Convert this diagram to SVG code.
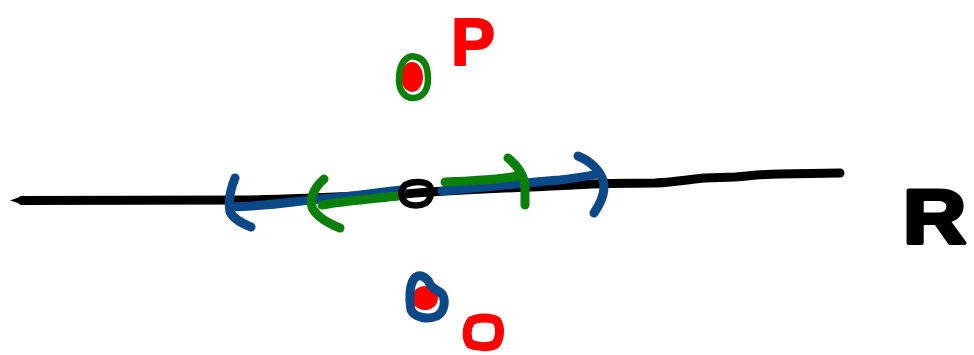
<svg xmlns="http://www.w3.org/2000/svg" width="974" height="355" viewBox="0 0 974 355">
  <style>
    .ink { fill: none; stroke-linecap: round; stroke-linejoin: round; }
    .black { stroke: #000000; }
    .blue { stroke: #0b4888; }
    .green { stroke: #0a800a; }
    .red { stroke: #ff0000; }
    .dot { fill: #ff0000; stroke: none; }
    .letter { font-family: "Liberation Sans", Arial, sans-serif; font-weight: bold; stroke-linejoin: round; }
  </style>
  <rect width="974" height="355" fill="#ffffff"/>

  <!-- the real line -->
  <g id="axis">
    <path class="ink black" stroke-width="9" d="M22,200.5 L250,200 C300,199 360,196 405,194 C440,191 480,189 530,187 C560,186 585,184 610,183.5 L655,183 C678,182 690,179 705,178 L735,177 C750,176 760,174 780,174 L840,173"/>
    <polygon fill="#000000" points="10,200.5 24,195.5 24,205"/>
  </g>

  <!-- intervals around the centre point -->
  <g id="connectors">
    <g id="blue-interval">
      <path class="ink blue" stroke-width="9" d="M230,207 C270,206 290,202 320,199 C350,197 380,192 402,190"/>
      <path class="ink blue" stroke-width="9" d="M442,191 C480,188 520,183 560,180 C575,178 590,176 598,174"/>
      <path class="ink blue" stroke-width="9" d="M235,178 C230,190 228,200 230,212 C234,220 244,224 251,227"/>
      <path class="ink blue" stroke-width="9" d="M578,156 C595,163 604,176 604,187 C604,198 598,207 594,213"/>
    </g>
    <g id="green-interval">
      <path class="ink green" stroke-width="9" d="M322,205 C345,201 370,199 398,196"/>
      <path class="ink green" stroke-width="9" d="M445,182 C470,181 495,180 518,176"/>
      <path class="ink green" stroke-width="9" d="M324,179 C314,188 310,198 312,207 C316,217 330,224 340,228"/>
      <path class="ink green" stroke-width="9" d="M508,158 C518,166 524,176 525,186 L525,205"/>
    </g>
  </g>

  <!-- centre point -->
  <g id="centre">
    <path class="ink black" stroke-width="6.5" d="M405,185 C412,181 424,181 429,185 C433,190 431,199 426,203 C419,207 408,206 404,201 C400,196 401,189 405,185 Z"/>
  </g>

  <!-- point above the line -->
  <g id="point-p">
    <ellipse class="dot" cx="412" cy="77" rx="11" ry="15"/>
    <path class="ink green" stroke-width="6.5" d="M409,57 C401,61 399,72 399,80 C399,91 405,98 413,98 C422,98 428,91 428,79 C428,68 425,59 416,57 C413,56 411,56 409,57"/>
    <text class="letter" x="451" y="65" font-size="66" fill="#ff0000" stroke="#ff0000" stroke-width="2">P</text>
  </g>

  <!-- points below the line -->
  <g id="point-q">
    <ellipse class="dot" cx="425" cy="298" rx="13" ry="12"/>
    <path class="ink blue" stroke-width="9" d="M416,277 C409,282 409,300 411,310 C415,318 428,320 437,316 C445,311 446,300 442,294 C438,290 432,289 430,284 C427,277 420,274 416,277"/>
  </g>
  <g id="point-r">
    <path class="ink red" stroke-width="9" d="M471,321 C478,317 491,317 497,321 C501,328 500,338 496,344 C489,348 477,347 470,344 C466,338 466,328 471,321 Z"/>
  </g>

  <!-- set label -->
  <g id="label-r">
    <text class="letter" x="903" y="243" font-size="76" fill="#000000" stroke="#000000" stroke-width="4" transform="translate(903 243) scale(1.15 1) translate(-903 -243)">R</text>
  </g>
</svg>
